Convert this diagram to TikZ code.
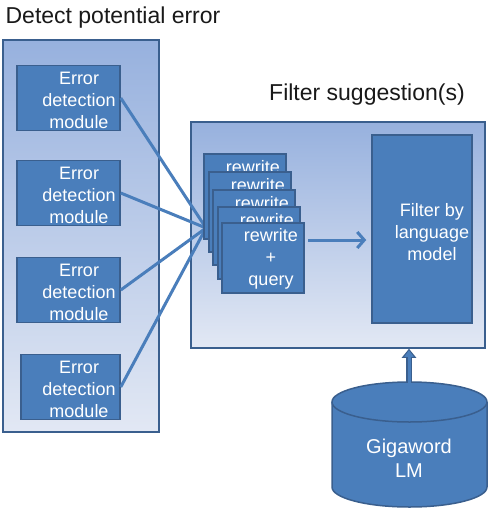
\documentclass[tikz,border=0pt]{standalone}
\usepackage{fontspec}
\setmainfont{Liberation Sans}
\usetikzlibrary{positioning,arrows.meta}
\definecolor{boxblue}{HTML}{4A7EBB}
\definecolor{edgeblue}{HTML}{3A5F8E}
\definecolor{paletop}{HTML}{97B1DE}
\definecolor{palebot}{HTML}{E2E8F4}
\tikzstyle{panel}=[draw=edgeblue, line width=1.5pt, top color=paletop, bottom color=palebot]
\tikzstyle{blk}=[draw=edgeblue, line width=1.5pt, fill=boxblue]
\tikzstyle{wtxt}=[text=white, font=\fontsize{18}{22}\selectfont, align=center, inner sep=0pt]
\tikzstyle{head}=[font=\fontsize{23}{27}\selectfont, text=black!90, inner sep=0pt]
\tikzstyle{wire}=[draw=boxblue, line width=3pt]

\begin{document}
\begin{tikzpicture}[x=1pt,y=-1pt]
\useasboundingbox (0,0) rectangle (489,512);
% panels
\node[head] (dettitle) at (113,18) {Detect potential error};
\node[panel, minimum width=156pt, minimum height=392pt] (detect) at (81,236) {};
\node[head] (filttitle) at (367,95) {Filter suggestion(s)};
\node[panel, minimum width=294pt, minimum height=226pt] (fsug) at (338,235) {};
% error detection modules
\coordinate (hub) at (206,228);
\foreach \i/\l/\y in {1/17/98,2/17/193,3/17/290,4/21/387} {
	\node[blk, minimum width=120pt-\l pt, minimum height=65pt] (mod\i) at ({(\l+120)/2},\y) {};
	\node[wtxt] (mod\i txt) at (79,\y+2) {Error\\detection\\module};
	\draw[wire] (mod\i.east) -- (hub);
}
% stacked rewrites
\foreach \i/\x/\y/\h in {1/203/153/85,2/208/171/80,3/212/189/75,4/217/206/72} {
	\node[blk, minimum width=82pt, minimum height=\h pt, anchor=north west] (rw\i) at (\x,\y) {};
	\node[wtxt] at (\x+50,\y+14) {rewrite};
}
\node[blk, minimum width=82pt, minimum height=70pt, anchor=north west] (rw5) at (221,222) {};
\node[wtxt] (rw5txt) at (271,259) {rewrite\\+\\query};
% language model filter
\node[blk, minimum width=100pt, minimum height=188pt] (filt) at (422,229) {};
\node[wtxt] (filttxt) at (432,232) {Filter by\\language\\model};
\coordinate (ra) at (308,240);
\draw[wire, shorten >=5pt, -{Straight Barb[length=7pt,width=16pt]}] (ra) -- (filt.west |- ra);
% gigaword
\fill[boxblue] (332,402) -- (332,487) arc[start angle=180,end angle=0,x radius=77.5,y radius=20] -- (487,402) -- cycle;
\draw[edgeblue, line width=1.5pt] (332,402) -- (332,487) arc[start angle=180,end angle=0,x radius=77.5,y radius=20] -- (487,402);
\draw[blk] (409.5,402) ellipse[x radius=77.5, y radius=20];
\coordinate (lmtop) at (409,382);
\node[wtxt, font=\fontsize{20}{24}\selectfont] (lm) at (409,458) {Gigaword\\LM};
\draw[edgeblue, line width=6pt, -{Triangle[length=9pt,width=14pt]}] (lmtop) -- (lmtop |- fsug.south);
\draw[boxblue, line width=3pt, shorten >=1.5pt, -{Triangle[length=6.5pt,width=9pt]}] ([yshift=-1pt]lmtop) -- (lmtop |- fsug.south);
\end{tikzpicture}
\end{document}
